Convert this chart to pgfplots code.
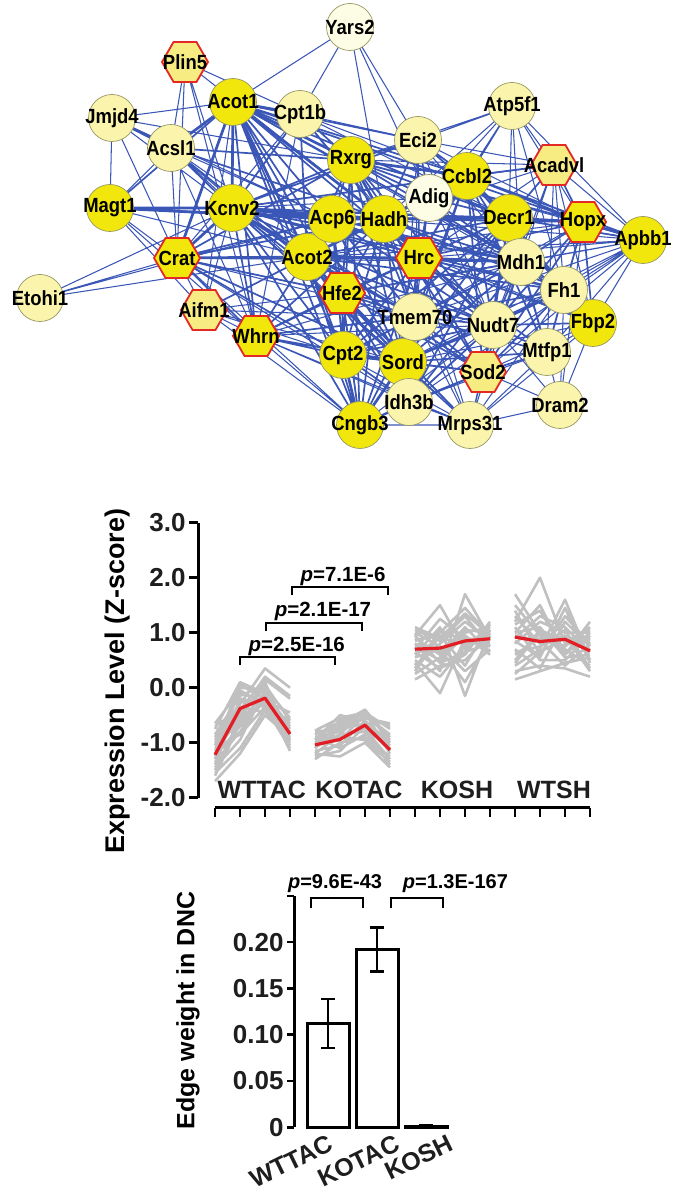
\documentclass[border=0pt]{standalone}
\usepackage{fontspec}
\setmainfont{Liberation Sans}
\newfontfamily\nfont[FakeStretch=0.9]{Liberation Sans}
\usepackage{pgfplots}
\pgfplotsset{compat=1.18}

\definecolor{edgeblue}{RGB}{58,86,182}
\definecolor{ybright}{RGB}{242,231,12}
\definecolor{ypale}{RGB}{250,244,172}
\definecolor{yvpale}{RGB}{253,252,228}
\definecolor{ymid}{RGB}{247,236,130}
\definecolor{nborder}{RGB}{150,150,100}
\definecolor{hexred}{RGB}{228,40,35}
\definecolor{glines}{RGB}{192,192,192}
\definecolor{redline}{RGB}{226,30,36}
\definecolor{txt}{RGB}{30,30,30}

\newcommand\fs[1]{\fontsize{#1}{#1}\selectfont\bfseries}

\pgfdeclareplotmark{hexagon}{%
 \pgfpathmoveto{\pgfpointpolar{0}{\pgfplotmarksize}}%
 \pgfpathlineto{\pgfpointpolar{60}{\pgfplotmarksize}}%
 \pgfpathlineto{\pgfpointpolar{120}{\pgfplotmarksize}}%
 \pgfpathlineto{\pgfpointpolar{180}{\pgfplotmarksize}}%
 \pgfpathlineto{\pgfpointpolar{240}{\pgfplotmarksize}}%
 \pgfpathlineto{\pgfpointpolar{300}{\pgfplotmarksize}}%
 \pgfpathclose
 \pgfusepathqfillstroke}

% network node positions (pixel coordinates, y downwards)
\def\N#1#2#3{\expandafter\def\csname nx#1\endcsname{#2}\expandafter\def\csname ny#1\endcsname{#3}}
\N{Ya}{350}{27}  \N{Pl}{185}{62}  \N{Ac1}{233}{102} \N{Cb}{300}{114}
\N{Jm}{112}{118} \N{At}{512}{106} \N{As}{171}{148}  \N{Ec}{418}{140}
\N{Rx}{351}{160} \N{Cc}{467}{176} \N{Aa}{554}{165}  \N{Ad}{429}{198}
\N{Mg}{110}{208} \N{Kc}{232}{208} \N{Ap}{332}{219}  \N{Hd}{384}{219}
\N{De}{509}{218} \N{Ho}{583}{222} \N{Ab}{643}{240}  \N{Cr}{177}{258}
\N{Ac2}{307}{257} \N{Hr}{419}{258} \N{Md}{521}{262} \N{Et}{40}{298}
\N{Hf}{342}{293} \N{Fh}{564}{290} \N{Ai}{204}{310}  \N{Tm}{415}{317}
\N{Nu}{493}{325} \N{Fb}{593}{323} \N{Wh}{256}{336}  \N{Mt}{547}{352}
\N{Cp}{343}{355} \N{So}{403}{362} \N{Sd}{483}{372}  \N{Id}{409}{402}
\N{Dr}{560}{405} \N{Cn}{360}{425} \N{Mr}{470}{425}

\newcommand\buildedges[2]{\gdef#1{}\foreach \a/\b in {#2}{\xdef#1{#1(\csname nx\a\endcsname,\csname ny\a\endcsname)(\csname nx\b\endcsname,\csname ny\b\endcsname)(nan,nan)}}}
\newcommand\buildlines[3]{\gdef#1{}\foreach \p/\q/\r/\s in {#3}{\xdef#1{#1(#2,\p)(\the\numexpr#2+1\relax,\q)(\the\numexpr#2+2\relax,\r)(\the\numexpr#2+3\relax,\s)(nan,nan)}}}

\buildedges\edgesthin{Ya/Ac1, Ya/Cb, Ya/Ec, Ya/Hd, Ya/Ad,
Pl/Cb, Pl/As, Pl/Cr, Pl/Kc, Pl/Wh, Pl/Hd,
Jm/Ac1, Jm/Mg, Jm/Kc, Jm/Cr, Jm/Rx, Jm/Ap,
At/Ec, At/Cc, At/Aa, At/Ho, At/De, At/Md, At/Ab, At/Hd, At/Rx, At/Hr, At/Fh, At/Ad,
Cb/Ec, Cb/Cc, Cb/De, Cb/Hr, Cb/Cr, Cb/Wh,
As/Mg, As/Cr, As/Ap, As/Hf, As/Tm, As/Wh,
Ec/Aa, Ec/Ho, Ec/Tm, Ec/Nu, Ec/So, Ec/Md,
Aa/Md, Aa/Fh, Aa/Fb, Aa/Hr, Aa/Nu, Aa/Hd, Aa/Mt, Aa/Kc,
Ad/Tm, Ad/Nu, Ad/So, Ad/Kc,
Mg/Cr, Mg/Hd, Mg/Ac2, Mg/Wh, Mg/Ai,
Et/Cr, Et/Kc, Et/Ac2, Et/Ap,
Cr/Ai, Cr/Md, Cr/Cn, Cr/Tm,
Ai/Wh, Ai/Cp, Ai/So, Ai/Tm, Ai/Cn, Ai/Kc, Ai/Hf, Ai/Ac1,
Ab/Md, Ab/Fh, Ab/Fb, Ab/Nu, Ab/Mt, Ab/Hr, Ab/Sd, Ab/So, Ab/Tm, Ab/Id, Ab/Hf, Ab/De, Ab/Aa,
Fb/Mt, Fb/Sd, Fb/Dr, Fb/So, Fb/Mr,
Mt/Dr, Mt/Mr, Mt/Id,
Dr/Mr, Dr/Sd, Dr/Nu, Dr/Fh, Dr/Ho,
Mr/Cn, Mr/Id, Mr/Sd, Mr/So, Mr/Wh,
Id/Cn, Cn/Wh, Cn/Hf,
Rx/Ab, Rx/Aa, Ho/Tm, Ho/Ac2, Hd/Mr, Kc/Mr, Kc/Sd, Wh/Id, Tm/Mr, Fh/Mr, Nu/Mr, Cp/Mr, Hf/Mr, Hr/Mr, Md/Mr, Id/Sd, Id/Nu,
Kc/Ab, Cr/Nu, Wh/Md, Ac1/Fh, As/So, Ap/Fb, Ac2/Ab, Hf/Ab, Cp/Fh, Cn/Nu, Wh/Nu, Cr/Id}

\buildedges\edgesmed{Ac1/Mg, Ac1/Ec, Ac1/Cc, Ac1/Ap, Ac1/Hr, Ac1/De, Ac1/Wh, Ac1/Hf, Ac1/Tm, Ac1/Cp, Ac1/So, Ac1/Cn, Ac1/Md, Ac1/Ho,
Cb/Rx, Cb/Kc, Cb/Hd, Cb/Ac2,
As/Kc, As/Rx, As/Ac2, As/Hd,
Ec/Rx, Ec/Cc, Ec/Hd, Ec/De, Ec/Ad, Ec/Hr, Ec/Kc,
Rx/Kc, Rx/Ad, Rx/Ap, Rx/De, Rx/Ac2, Rx/Hr, Rx/Md, Rx/Ho, Rx/Cr, Rx/Hf, Rx/Tm, Rx/So, Rx/Cp, Rx/Nu, Rx/Cn,
Cc/Aa, Cc/Ho, Cc/Hd, Cc/Hr, Cc/Md, Cc/Fh, Cc/Ab, Cc/Nu, Cc/Tm, Cc/So, Cc/Kc, Cc/Ac2, Cc/Sd, Cc/Mt, Cc/Fb,
Aa/Ho, Aa/De,
Ad/Hd, Ad/De, Ad/Hr, Ad/Md,
Kc/Hr, Kc/De, Kc/Ho, Kc/Wh, Kc/Hf, Kc/Tm, Kc/Cp, Kc/So, Kc/Cn, Kc/Md, Kc/Nu, Kc/Fh,
Ap/Ac2, Ap/Hr, Ap/De, Ap/Hf, Ap/Tm, Ap/So, Ap/Cp, Ap/Cr, Ap/Md, Ap/Nu, Ap/Cn,
Hd/Hf, Hd/Md, Hd/Ho, Hd/Tm, Hd/So, Hd/Nu, Hd/Cp, Hd/Cn, Hd/Fh, Hd/Sd, Hd/Wh, Hd/Cr,
De/Ab, De/Md, De/Hr, De/Fh, De/Nu, De/Fb, De/Mt, De/Sd, De/Tm, De/So, De/Ac2, De/Cp, De/Id,
Ho/Md, Ho/Fh, Ho/Fb, Ho/Nu, Ho/Mt, Ho/Hr, Ho/Sd,
Cr/Wh, Cr/Hr, Cr/Hf, Cr/Cp, Cr/So,
Ac2/Hf, Ac2/Tm, Ac2/So, Ac2/Cp, Ac2/Wh, Ac2/Nu, Ac2/Md, Ac2/Fh, Ac2/Cn, Ac2/Id, Ac2/Mr, Ac2/Sd, Ac2/Ai,
Hr/Nu, Hr/Tm, Hr/So, Hr/Hf, Hr/Fh, Hr/Fb, Hr/Mt, Hr/Sd, Hr/Cp, Hr/Id, Hr/Cn, Hr/Wh,
Md/Fh, Md/Nu, Md/Fb, Md/Mt, Md/Sd, Md/Tm, Md/So, Md/Hf, Md/Id, Md/Cp,
Hf/Tm, Hf/So, Hf/Cp, Hf/Wh, Hf/Nu, Hf/Id, Hf/Sd,
Fh/Fb, Fh/Nu, Fh/Mt, Fh/Sd, Fh/So, Fh/Tm,
Tm/So, Tm/Nu, Tm/Cp, Tm/Id, Tm/Sd, Tm/Cn, Tm/Mt, Tm/Wh,
Nu/Sd, Nu/Mt, Nu/Fb, Nu/So, Nu/Id, Nu/Cp,
Wh/Cp, Wh/So, Mt/Sd, Mt/So, Cp/Id, Cp/Sd, So/Id, So/Sd, Sd/Cn}

\buildedges\edgesthick{Ac1/Cb, Ac1/As, Ac1/Kc, Ac1/Rx, Ac1/Hd, Ac1/Ac2, Jm/As, Mg/Kc, Kc/Ap, Kc/Hd, Ap/Hd, Hd/De, De/Ho, Ac2/Hr, Cp/So, Kc/Ac2, Hr/Md, Hd/Hr, Rx/Hd, Cc/De, Ho/Ab, Kc/Cr, Ac1/Cr, Mg/Ap, Rx/Cc, So/Cn, Cp/Cn, Cr/Ac2, Hd/Ac2}

% gray expression profiles (4 samples per group)
\buildlines\gA{0}{-0.65/-0.05/-0.30/-0.95, -0.75/0.10/-0.10/-0.70, -0.85/-0.15/0.05/-0.60, -0.95/-0.30/0.35/0.00,
-1.00/-0.45/0.20/-0.15, -1.05/0.05/-0.20/-1.00, -1.10/-0.60/-0.10/-0.75, -1.15/-0.25/-0.35/-1.10,
-1.20/-0.50/0.00/-0.55, -1.25/-0.70/-0.25/-0.90, -1.30/-0.35/-0.45/-0.80, -1.35/-0.80/-0.15/-1.05,
-1.40/-0.20/-0.30/-0.65, -1.45/-0.95/-0.05/-0.85, -1.50/-0.55/0.10/-0.95, -1.55/-1.10/-0.40/-0.70,
-1.60/-0.65/-0.20/-1.15, -1.70/-1.20/-0.50/-0.90, -0.90/-0.10/-0.25/-0.45, -1.30/0.00/-0.05/-1.00,
-1.10/-0.85/-0.35/-0.60, -0.70/-0.40/0.15/-0.20}
\buildlines\gB{4}{-0.78/-0.55/-0.45/-0.75, -0.85/-0.65/-0.40/-0.95, -0.90/-0.80/-0.55/-0.65, -0.95/-0.50/-0.60/-1.05,
-1.00/-0.70/-0.45/-1.20, -1.05/-0.95/-0.50/-0.85, -1.10/-0.60/-0.75/-1.30, -1.15/-1.05/-0.60/-1.00,
-1.20/-0.85/-0.80/-1.40, -1.25/-1.15/-0.70/-1.15, -1.30/-1.00/-0.90/-1.25, -0.80/-0.75/-0.65/-1.10,
-0.90/-1.10/-0.85/-0.95, -1.00/-0.90/-0.95/-1.35, -1.10/-0.75/-0.55/-0.70, -1.20/-1.25/-1.00/-1.45,
-0.95/-0.60/-0.50/-0.90, -1.05/-0.85/-0.40/-1.00}
\buildlines\gC{8}{0.95/1.50/0.70/1.00, 0.45/-0.10/0.90/0.85, 0.80/0.30/1.70/0.90, 0.60/1.10/-0.15/1.05,
1.05/0.85/1.30/0.75, 0.15/0.40/0.50/0.95, 0.30/0.95/0.40/1.15, 0.90/0.60/1.10/0.65,
0.70/1.25/0.90/0.80, 0.50/0.20/0.75/1.10, 1.00/0.75/0.30/0.70, 0.25/0.55/1.05/1.00,
0.85/1.00/1.45/0.95, 0.65/0.35/0.60/1.20, 0.40/0.80/1.20/0.85, 0.75/0.50/0.95/0.60,
1.10/0.90/0.80/1.05, 0.55/0.70/0.10/0.90, 0.35/1.05/0.85/0.75, 0.80/0.65/1.00/1.10,
0.95/0.45/0.65/0.80, 0.60/0.90/1.35/0.95}
\buildlines\gD{12}{1.70/1.00/0.90/0.70, 0.15/0.30/0.45/0.55, 1.20/2.00/0.80/0.90, 0.40/0.70/1.60/0.50,
1.00/1.50/0.60/1.20, 0.30/0.40/0.35/0.20, 0.80/1.20/1.00/1.00, 1.40/0.60/1.30/0.80,
0.60/0.90/0.70/0.40, 1.10/0.50/0.50/0.95, 0.90/1.30/1.10/0.65, 0.50/1.05/0.85/1.05,
1.30/0.80/0.95/0.30, 0.70/0.35/1.20/0.75, 1.00/1.10/0.55/0.60, 0.25/0.65/0.90/0.85,
1.50/0.95/0.75/1.10, 0.85/0.55/1.45/0.45, 1.15/1.40/0.65/0.90, 0.65/0.75/1.05/0.35,
0.95/0.85/0.40/0.80, 0.45/1.00/0.60/1.00}

\begin{document}
\begin{tikzpicture}
\useasboundingbox (0,0) rectangle (682pt,1196pt);

% ---------------- network ----------------
\begin{axis}[
  at={(0pt,776pt)}, anchor=south west, scale only axis,
  width=682pt, height=420pt,
  xmin=0, xmax=682, ymin=0, ymax=420, y dir=reverse,
  hide axis, clip=false, unbounded coords=jump,
  every node near coord/.append style={anchor=center, inner sep=0pt, text=black, font=\nfont\fontsize{20.5}{20.5}\selectfont\bfseries},
]
\edef\tmp{\noexpand\addplot[edgeblue, line width=1.05pt, forget plot] coordinates {\edgesthin};}\tmp
\edef\tmp{\noexpand\addplot[edgeblue, line width=1.7pt, forget plot] coordinates {\edgesmed};}\tmp
\edef\tmp{\noexpand\addplot[edgeblue, line width=2.7pt, forget plot] coordinates {\edgesthick};}\tmp

\addplot[only marks, mark=*, mark size=23.5pt, mark options={fill=ybright, draw=nborder, line width=0.7pt},
  nodes near coords, point meta=explicit symbolic] table[meta=label] {
x y label
233 102 Acot1
110 208 Magt1
232 208 Kcnv2
351 160 Rxrg
467 176 Ccbl2
384 219 Hadh
509 218 Decr1
307 257 Acot2
643 240 Apbb1
593 323 Fbp2
343 355 Cpt2
403 362 Sord
360 425 Cngb3
332 219 Acp6
};
\addplot[only marks, mark=*, mark size=23.5pt, mark options={fill=ypale, draw=nborder, line width=0.7pt},
  nodes near coords, point meta=explicit symbolic] table[meta=label] {
x y label
112 118 Jmjd4
171 148 Acsl1
300 114 Cpt1b
512 106 Atp5f1
418 140 Eci2
521 262 Mdh1
564 290 Fh1
493 325 Nudt7
547 352 Mtfp1
415 317 Tmem70
409 402 Idh3b
470 425 Mrps31
560 405 Dram2
40 298 Etohi1
};
\addplot[only marks, mark=*, mark size=23.5pt, mark options={fill=yvpale, draw=nborder, line width=0.7pt},
  nodes near coords, point meta=explicit symbolic] table[meta=label] {
x y label
350 27 Yars2
429 198 Adig
};
\addplot[only marks, mark=hexagon, mark size=23pt, mark options={fill=ybright, draw=hexred, line width=1.8pt},
  nodes near coords, point meta=explicit symbolic] table[meta=label] {
x y label
177 258 Crat
419 258 Hrc
342 293 Hfe2
256 336 Whrn
583 222 Hopx
};
\addplot[only marks, mark=hexagon, mark size=23pt, mark options={fill=ymid, draw=hexred, line width=1.8pt},
  nodes near coords, point meta=explicit symbolic] table[meta=label] {
x y label
185 62 Plin5
554 165 Acadvl
204 310 Aifm1
483 372 Sod2
};
\end{axis}

% ---------------- expression profiles ----------------
\begin{axis}[
  at={(198pt,398.3pt)}, anchor=south west, scale only axis,
  width=397pt, height=275pt,
  xmin=-0.68, xmax=15.2, ymin=-2, ymax=3,
  axis x line=none, axis y line=left,
  axis line style={-, line width=3pt, black},
  ytick={-2,-1,0,1,2,3}, yticklabels={-2.0,-1.0,0.0,1.0,2.0,3.0},
  tick align=outside, major tick length=9pt,
  ytick style={line width=2.5pt, black},
  yticklabel style={font=\fs{26}, text=txt},
  ylabel={Expression Level (Z-score)},
  ylabel style={font=\fs{27}, text=black, at={(axis description cs:-0.2015,0.424)}, anchor=center},
  clip=false, unbounded coords=jump,
]
\edef\tmp{\noexpand\addplot[glines, line width=2.6pt, line join=round] coordinates {\gA};}\tmp
\edef\tmp{\noexpand\addplot[glines, line width=2.6pt, line join=round] coordinates {\gB};}\tmp
\edef\tmp{\noexpand\addplot[glines, line width=2.6pt, line join=round] coordinates {\gC};}\tmp
\edef\tmp{\noexpand\addplot[glines, line width=2.6pt, line join=round] coordinates {\gD};}\tmp
\addplot[redline, line width=3.2pt, line join=round] coordinates {(0,-1.22) (1,-0.38) (2,-0.19) (3,-0.84)};
\addplot[redline, line width=3.2pt, line join=round] coordinates {(4,-1.04) (5,-0.94) (6,-0.68) (7,-1.13)};
\addplot[redline, line width=3.2pt, line join=round] coordinates {(8,0.70) (9,0.72) (10,0.85) (11,0.89)};
\addplot[redline, line width=3.2pt, line join=round] coordinates {(12,0.92) (13,0.84) (14,0.88) (15,0.67)};

\node[font=\fs{25}, text=txt] at (axis cs:1.87,-1.86) {WTTAC};
\node[font=\fs{25}, text=txt] at (axis cs:5.76,-1.86) {KOTAC};
\node[font=\fs{25}, text=txt] at (axis cs:9.68,-1.86) {KOSH};
\node[font=\fs{25}, text=txt] at (axis cs:13.56,-1.86) {WTSH};

\draw[line width=2pt] (axis cs:1,0.413) -- (axis cs:1,0.553) -- (axis cs:4.8,0.553) -- (axis cs:4.8,0.413);
\draw[line width=2pt] (axis cs:2.03,1.03) -- (axis cs:2.03,1.18) -- (axis cs:5.87,1.18) -- (axis cs:5.87,1.03);
\draw[line width=2pt] (axis cs:3.07,1.685) -- (axis cs:3.07,1.825) -- (axis cs:6.9,1.825) -- (axis cs:6.9,1.685);
\node[font=\fs{20.5}] at (axis cs:3.27,0.758) {\textit{p}=2.5E-16};
\node[font=\fs{20.5}] at (axis cs:4.32,1.38) {\textit{p}=2.1E-17};
\node[font=\fs{20.5}] at (axis cs:5.12,2.02) {\textit{p}=7.1E-6};
\end{axis}

% separate x axis line with ticks
\begin{axis}[
  at={(215pt,388pt)}, anchor=south west, scale only axis,
  width=375pt, height=20pt,
  xmin=0, xmax=15, ymin=0, ymax=1,
  axis x line=bottom, axis y line=none,
  axis line style={-, line width=3pt, black},
  xtick={0,1,...,15}, xticklabels={},
  tick align=outside, major tick length=9pt,
  xtick style={line width=2.8pt, black},
]
\addplot[draw=none, forget plot] coordinates {(0,0)};
\end{axis}

% ---------------- edge weight bars ----------------
\begin{axis}[
  at={(294pt,68.7pt)}, anchor=south west, scale only axis,
  width=159pt, height=231.5pt,
  xmin=-0.694, xmax=2.55, ymin=0, ymax=0.25,
  axis y line=left, axis x line=bottom,
  axis line style={-, line width=3pt, black},
  x axis line style={draw=none},
  xtick={0.075,1.428,2.524}, xticklabels={WTTAC,KOTAC,KOSH},
  xtick style={draw=none},
  xticklabel style={rotate=26, anchor=north east, font=\fs{25}, text=txt, yshift=6pt},
  ytick={0,0.05,0.1,0.15,0.2,0.25}, yticklabels={0,0.05,0.10,0.15,0.20,{}},
  tick align=outside, major tick length=7pt,
  ytick style={line width=2.5pt, black},
  yticklabel style={font=\fs{26}, text=txt},
  ylabel={Edge weight in DNC},
  ylabel style={font=\fs{25}, text=black, at={(axis description cs:-0.667,0.504)}, anchor=center},
  clip=false,
]
\addplot[ybar, bar width=42pt, bar shift=0pt, fill=white, draw=black, line width=3pt,
  error bars/.cd, y dir=both, y explicit,
  error bar style={line width=2.5pt, black},
  error mark options={rotate=90, mark size=7pt, line width=2.5pt, black}]
  coordinates {(0,0.112) +- (0,0.0265) (1,0.192) +- (0,0.024) (2,0.0012) +- (0,0.0012)};

\draw[line width=2pt] (axis cs:-0.347,0.2365) -- (axis cs:-0.347,0.2473) -- (axis cs:0.708,0.2473) -- (axis cs:0.708,0.2365);
\draw[line width=2pt] (axis cs:1.286,0.2365) -- (axis cs:1.286,0.2473) -- (axis cs:2.341,0.2473) -- (axis cs:2.341,0.2365);
\node[font=\fs{20}] at (axis cs:0.143,0.2635) {\textit{p}=9.6E-43};
\node[font=\fs{20}] at (axis cs:2.6,0.2635) {\textit{p}=1.3E-167};
\end{axis}
\end{tikzpicture}
\end{document}
